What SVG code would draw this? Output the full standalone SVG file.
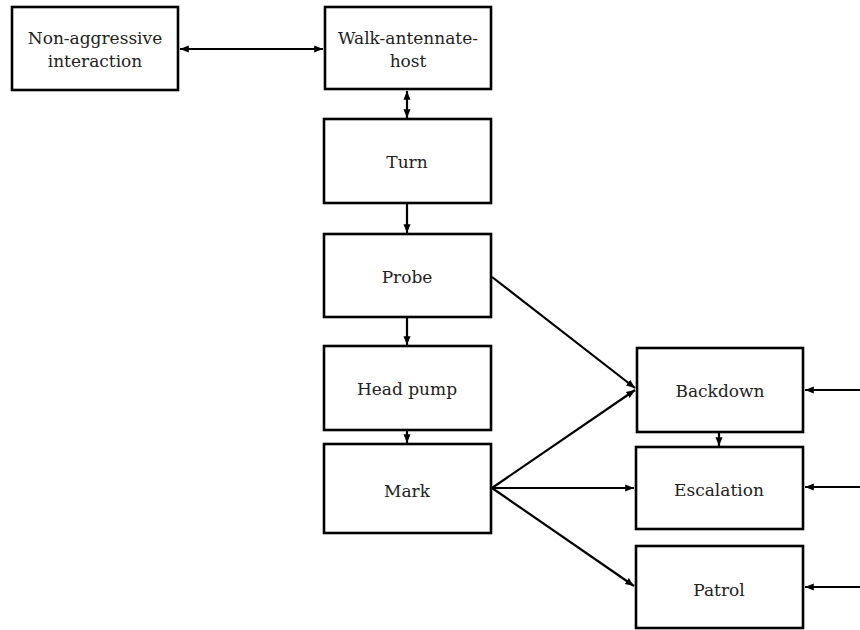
<svg xmlns="http://www.w3.org/2000/svg" width="860" height="630" viewBox="0 0 860 630">
<style>
.box{fill:#fff;stroke:#000;stroke-width:2.6}
.lbl{font-family:'DejaVu Serif',serif;font-size:17px;fill:#222;text-anchor:middle}
.ln{stroke:#000;stroke-width:2.2;fill:none}
</style>
<defs>
<marker id="ah" viewBox="0 0 10 10" refX="10" refY="5" markerWidth="4" markerHeight="4" orient="auto-start-reverse" markerUnits="strokeWidth">
<path d="M0,1 L10,5 L0,9 z" fill="#000"/>
</marker>
</defs>
<rect width="860" height="630" fill="#fff"/>
<g id="connectors">
<line class="ln" x1="180" y1="49" x2="323" y2="49" marker-start="url(#ah)" marker-end="url(#ah)"/>
<line class="ln" x1="407" y1="91" x2="407" y2="118" marker-start="url(#ah)" marker-end="url(#ah)"/>
<line class="ln" x1="407" y1="204" x2="407" y2="233" marker-end="url(#ah)"/>
<line class="ln" x1="407" y1="318" x2="407" y2="345" marker-end="url(#ah)"/>
<line class="ln" x1="407" y1="431" x2="407" y2="443" marker-end="url(#ah)"/>
<line class="ln" x1="719" y1="433" x2="719" y2="446" marker-end="url(#ah)"/>
<line class="ln" x1="492" y1="277" x2="635" y2="388" marker-end="url(#ah)"/>
<line class="ln" x1="492" y1="488" x2="635" y2="390" marker-end="url(#ah)"/>
<line class="ln" x1="492" y1="488" x2="634" y2="488" marker-end="url(#ah)"/>
<line class="ln" x1="492" y1="488" x2="634" y2="586" marker-end="url(#ah)"/>
<line class="ln" x1="860" y1="390" x2="805" y2="390" marker-end="url(#ah)"/>
<line class="ln" x1="860" y1="487" x2="805" y2="487" marker-end="url(#ah)"/>
<line class="ln" x1="860" y1="587" x2="805" y2="587" marker-end="url(#ah)"/>
</g>
<g id="non-aggressive">
<rect class="box" x="12" y="7" width="166" height="83"/>
<text class="lbl" x="95" y="44">Non-aggressive</text>
<text class="lbl" x="95" y="67">interaction</text>
</g>
<g id="walk">
<rect class="box" x="325" y="7" width="166" height="82"/>
<text class="lbl" x="408" y="44">Walk-antennate-</text>
<text class="lbl" x="408" y="67">host</text>
</g>
<g id="turn">
<rect class="box" x="324" y="119" width="167" height="84"/>
<text class="lbl" x="407" y="168">Turn</text>
</g>
<g id="probe">
<rect class="box" x="324" y="234" width="167" height="83"/>
<text class="lbl" x="407" y="283">Probe</text>
</g>
<g id="headpump">
<rect class="box" x="324" y="346" width="167" height="84"/>
<text class="lbl" x="407" y="395">Head pump</text>
</g>
<g id="mark">
<rect class="box" x="324" y="444" width="167" height="89"/>
<text class="lbl" x="407" y="497">Mark</text>
</g>
<g id="backdown">
<rect class="box" x="637" y="348" width="166" height="84"/>
<text class="lbl" x="720" y="397">Backdown</text>
</g>
<g id="escalation">
<rect class="box" x="636" y="447" width="167" height="82"/>
<text class="lbl" x="719" y="496">Escalation</text>
</g>
<g id="patrol">
<rect class="box" x="636" y="546" width="167" height="82"/>
<text class="lbl" x="719" y="596">Patrol</text>
</g>
</svg>
